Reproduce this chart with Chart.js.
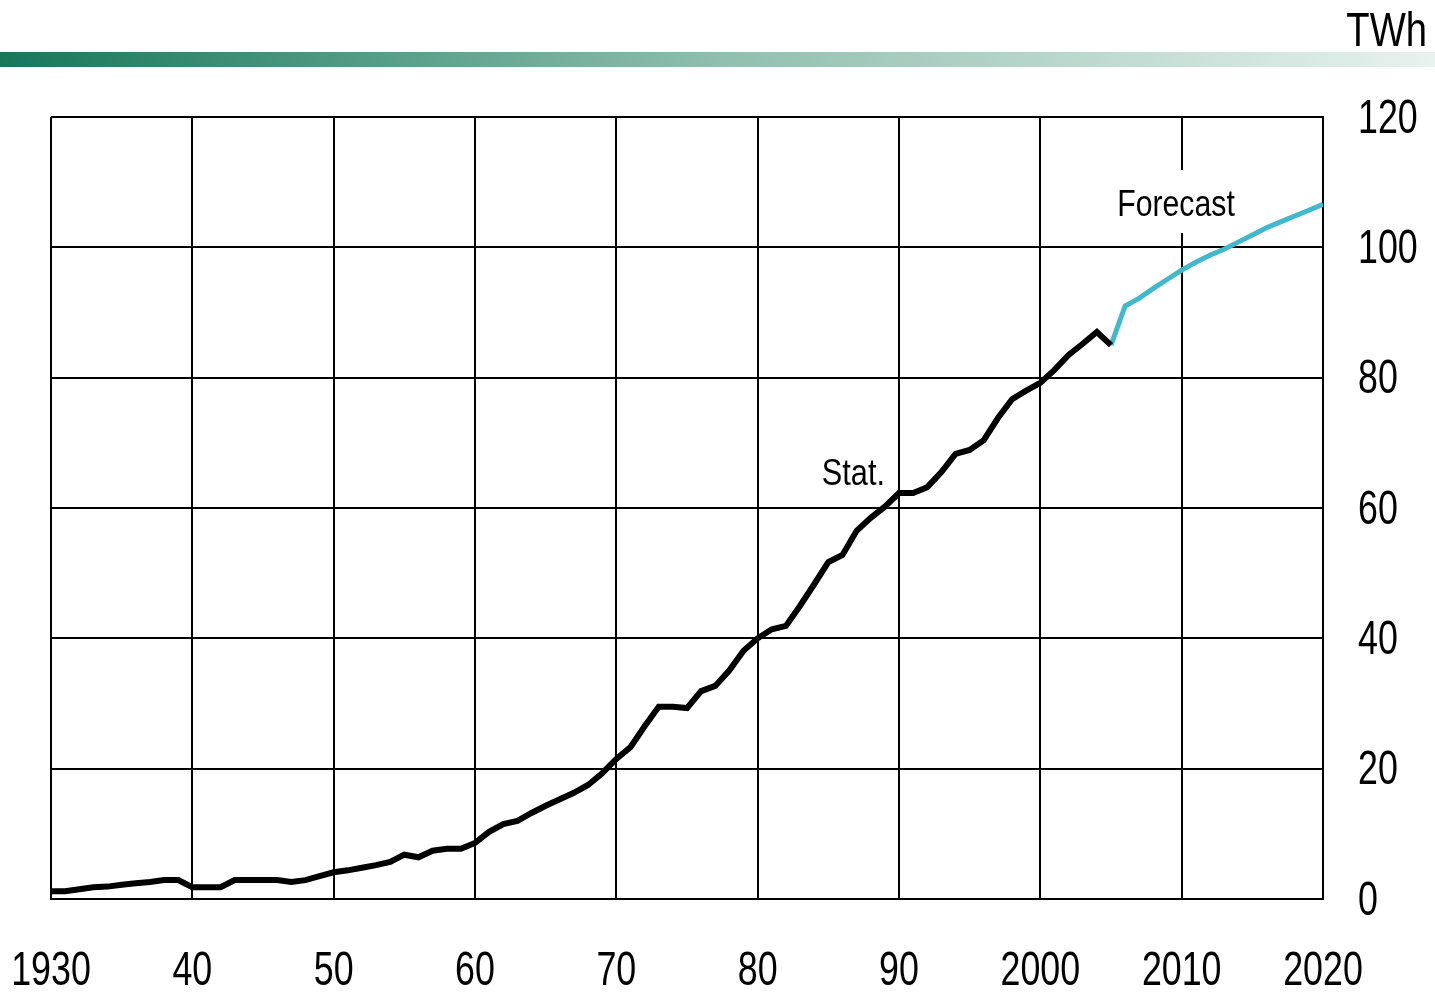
<!DOCTYPE html>
<html lang="en">
<head>
  <meta charset="UTF-8">
  <title>TWh 1930-2020</title>
  <script src="https://cdn.jsdelivr.net/npm/chart.js"></script>
  <style>
    html, body { margin: 0; padding: 0; background: #fff; }
    canvas { display: block; }
  </style>
</head>
<body>
  <canvas id="chart" width="1435" height="992"></canvas>

  <script>
    // statistics, yearly 1930-2005 (TWh)
    const statYears = [];
    for (let y = 1930; y <= 2005; y++) statYears.push(y);
    const statValues = [
      1.2, 1.2, 1.5, 1.8, 1.9, 2.2, 2.4, 2.6, 2.9, 2.9,
      1.8, 1.8, 1.8, 2.9, 2.9, 2.9, 2.9, 2.6, 2.9, 3.5,
      4.1, 4.4, 4.8, 5.2, 5.7, 6.8, 6.4, 7.4, 7.7, 7.7,
      8.6, 10.3, 11.5, 12.0, 13.2, 14.3, 15.3, 16.3, 17.5, 19.3,
      21.5, 23.3, 26.5, 29.5, 29.5, 29.3, 31.9, 32.7, 35.1, 38.1,
      40.0, 41.4, 41.9, 45.0, 48.3, 51.7, 52.8, 56.5, 58.5, 60.2,
      62.3, 62.3, 63.2, 65.5, 68.3, 68.9, 70.4, 73.8, 76.7, 78.0,
      79.2, 81.2, 83.5, 85.2, 87.0, 85.0
    ];

    // forecast 2005-2020
    const forecastYears = [];
    for (let y = 2005; y <= 2020; y++) forecastYears.push(y);
    const forecastValues = [
      85.0, 91.0, 92.2, 93.7, 95.1, 96.5, 97.7, 98.8,
      99.7, 100.8, 101.9, 103.0, 103.9, 104.8, 105.7, 106.6
    ];

    const xTickLabels = ['1930', '40', '50', '60', '70', '80', '90', '2000', '2010', '2020'];
    const yTicks = [0, 20, 40, 60, 80, 100, 120];

    const FONT = '"Liberation Sans", Arial, sans-serif';

    function narrowText(ctx, text, x, y, size, squeeze, align, baseline) {
      ctx.save();
      ctx.font = size + 'px ' + FONT;
      ctx.fillStyle = '#000';
      ctx.textAlign = align;
      ctx.textBaseline = baseline;
      ctx.translate(x, y);
      ctx.scale(squeeze, 1);
      ctx.fillText(text, 0, 0);
      ctx.restore();
    }

    const decorPlugin = {
      id: 'decor',
      beforeDraw(chart) {
        const ctx = chart.ctx;
        const g = ctx.createLinearGradient(0, 0, chart.width, 0);
        g.addColorStop(0, '#16775b');
        g.addColorStop(0.5, '#8fbfae');
        g.addColorStop(1, '#e8f2ee');
        ctx.fillStyle = g;
        ctx.fillRect(0, 52, chart.width, 15);
      },
      beforeDatasetsDraw(chart) {
        // white box behind the "Forecast" label
        const ctx = chart.ctx;
        ctx.fillStyle = '#fff';
        ctx.fillRect(1110, 170, 130, 63);
      },
      afterDraw(chart) {
        const ctx = chart.ctx;
        const xs = chart.scales.x;
        const ys = chart.scales.y;
        xs.ticks.forEach((t, i) => {
          narrowText(ctx, xTickLabels[i], xs.getPixelForValue(t.value), 971, 49, 0.73, 'center', 'middle');
        });
        ys.ticks.forEach(t => {
          narrowText(ctx, String(t.value), 1358, ys.getPixelForValue(t.value) + 2, 49, 0.73, 'left', 'middle');
        });
        narrowText(ctx, 'TWh', 1427, 46, 49, 0.78, 'right', 'alphabetic');
        narrowText(ctx, 'Stat.', 885, 485, 37, 0.83, 'right', 'alphabetic');
        narrowText(ctx, 'Forecast', 1176, 216, 36, 0.84, 'center', 'alphabetic');
      }
    };

    new Chart(document.getElementById('chart'), {
      type: 'line',
      data: {
        datasets: [{
          label: 'Stat.',
          data: statYears.map((y, i) => ({ x: y, y: statValues[i] })),
          borderColor: '#000',
          borderWidth: 6,
          pointRadius: 0,
          tension: 0
        }, {
          label: 'Forecast',
          data: forecastYears.map((y, i) => ({ x: y, y: forecastValues[i] })),
          borderColor: '#41b8cc',
          borderWidth: 5,
          pointRadius: 0,
          tension: 0
        }]
      },
      options: {
        responsive: false,
        devicePixelRatio: 1,
        animation: false,
        layout: { padding: { left: 51, right: 112, top: 117, bottom: 93 } },
        plugins: { legend: { display: false }, tooltip: { enabled: false } },
        scales: {
          x: {
            type: 'linear',
            min: 1930,
            max: 2020,
            ticks: { stepSize: 10, display: false },
            grid: { color: '#000', lineWidth: 2, drawTicks: false },
            border: { color: '#000', width: 2 },
            afterFit(s) { s.height = 0; }
          },
          y: {
            position: 'right',
            min: 0,
            max: 120,
            ticks: { stepSize: 20, display: false },
            grid: { color: '#000', lineWidth: 2, drawTicks: false },
            border: { color: '#000', width: 2 },
            afterFit(s) { s.width = 0; }
          }
        }
      },
      plugins: [decorPlugin]
    });
  </script>
</body>
</html>
